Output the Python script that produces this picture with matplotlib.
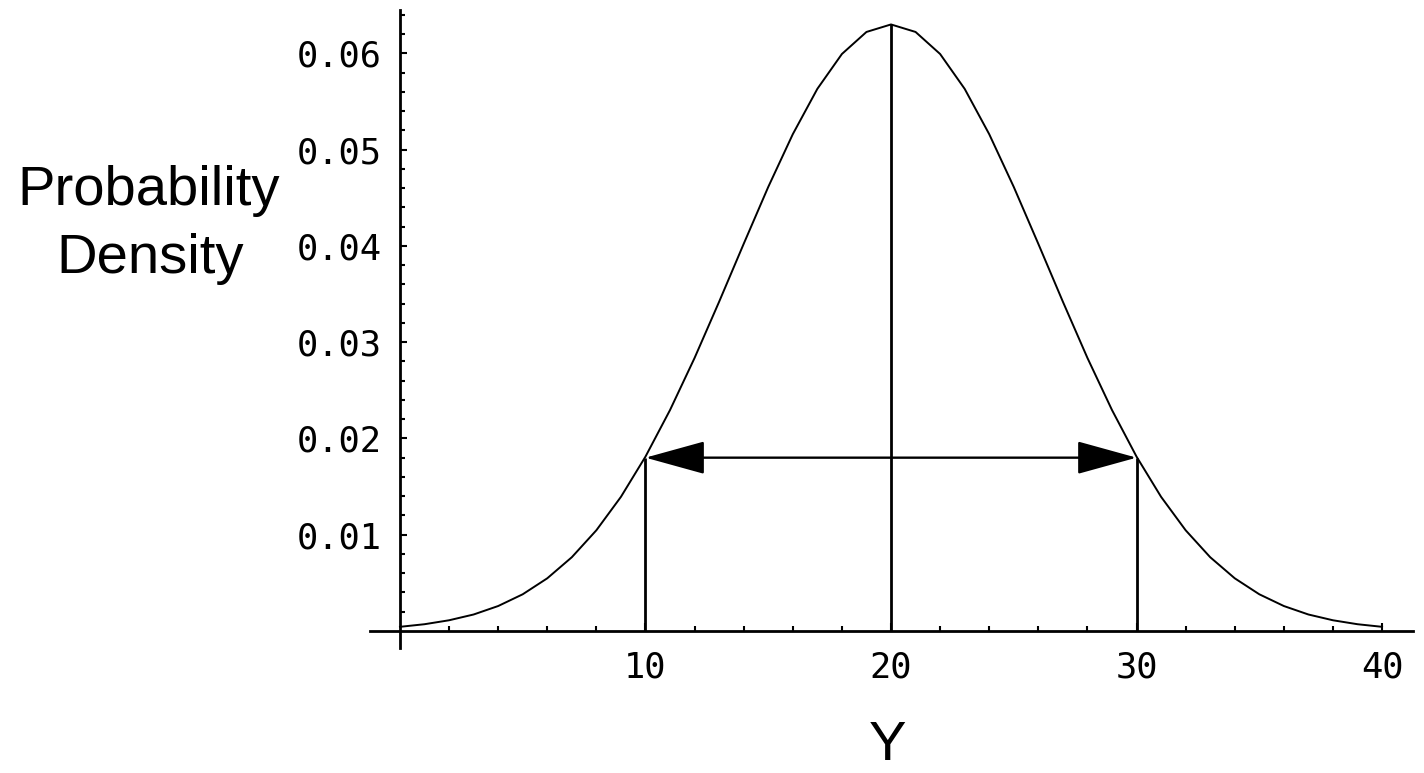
import matplotlib
matplotlib.use("Agg")
import matplotlib.pyplot as plt
from matplotlib.patches import FancyArrowPatch
from matplotlib.ticker import FixedLocator, FixedFormatter

# ---- data ----
y_values = list(range(0, 41))
density = [0.00043, 0.00070, 0.00111, 0.00171, 0.00259, 0.00381, 0.00547,
           0.00766, 0.01046, 0.01393, 0.01811, 0.02295, 0.02836, 0.03420,
           0.04021, 0.04612, 0.05160, 0.05631, 0.05993, 0.06222, 0.06300,
           0.06222, 0.05993, 0.05631, 0.05160, 0.04612, 0.04021, 0.03420,
           0.02836, 0.02295, 0.01811, 0.01393, 0.01046, 0.00766, 0.00547,
           0.00381, 0.00259, 0.00171, 0.00111, 0.00070, 0.00043]

mean_y = 20
peak_density = 0.063
lower_y = 10
upper_y = 30
band_density = 0.018

x_major = [10, 20, 30, 40]
x_major_labels = ["10", "20", "30", "40"]
x_minor = [2, 4, 6, 8, 12, 14, 16, 18, 22, 24, 26, 28, 32, 34, 36, 38]
y_major = [0.01, 0.02, 0.03, 0.04, 0.05, 0.06]
y_major_labels = ["0.01", "0.02", "0.03", "0.04", "0.05", "0.06"]
y_minor = [0.002, 0.004, 0.006, 0.008, 0.012, 0.014, 0.016, 0.018,
           0.022, 0.024, 0.026, 0.028, 0.032, 0.034, 0.036, 0.038,
           0.042, 0.044, 0.046, 0.048, 0.052, 0.054, 0.056, 0.058,
           0.062, 0.064]

# ---- figure ----
W, H = 1424, 773
fig = plt.figure(figsize=(W / 100, H / 100), dpi=100)
ax = fig.add_axes([370 / W, 1 - 648 / H, (1413 - 370) / W, 638 / H])
ax.set_xlim(-1.22, 41.26)
ax.set_ylim(-0.00177, 0.0645)

for s in ["top", "right"]:
    ax.spines[s].set_visible(False)
ax.spines["left"].set_position(("data", 0))
ax.spines["bottom"].set_position(("data", 0))
for s in ["left", "bottom"]:
    ax.spines[s].set_linewidth(2.0)
    ax.spines[s].set_color("black")

# curve
ax.plot(y_values, density, color="black", lw=1.4, solid_joinstyle="round")

# vertical lines
ax.vlines([lower_y, upper_y], 0, band_density, color="black", lw=2.0)
ax.vlines([mean_y], 0, peak_density, color="black", lw=2.0)

# double arrow
arrow = FancyArrowPatch((lower_y, band_density), (upper_y, band_density),
                        arrowstyle="<|-|>,head_length=38,head_width=10.5",
                        mutation_scale=1, shrinkA=0, shrinkB=0,
                        color="black", lw=1.7)
ax.add_patch(arrow)

# ticks
mono = {"family": "DejaVu Sans Mono", "size": 25.5}
ax.xaxis.set_major_locator(FixedLocator(x_major))
ax.xaxis.set_major_formatter(FixedFormatter(x_major_labels))
ax.xaxis.set_minor_locator(FixedLocator(x_minor))
ax.yaxis.set_major_locator(FixedLocator(y_major))
ax.yaxis.set_major_formatter(FixedFormatter(y_major_labels))
ax.yaxis.set_minor_locator(FixedLocator(y_minor))
ax.tick_params(axis="x", which="major", direction="in", length=5.8, width=1.5, pad=14)
ax.tick_params(axis="x", which="minor", direction="in", length=3.6, width=1.5)
ax.tick_params(axis="y", which="major", direction="in", length=5, width=1.5, pad=13)
ax.tick_params(axis="y", which="minor", direction="in", length=3.6, width=1.5)
for lab in ax.get_xticklabels() + ax.get_yticklabels():
    lab.set_fontfamily(mono["family"])
    lab.set_fontsize(mono["size"])

# labels
sans = "Liberation Sans"
fig.text(149 / W, 1 - 205 / H, "Probability", ha="center", va="baseline",
         fontsize=40.5, family=sans)
fig.text(150 / W, 1 - 273 / H, "Density", ha="center", va="baseline",
         fontsize=40.5, family=sans)
fig.text(888 / W, 1 - 760 / H, "Y", ha="center", va="baseline",
         fontsize=40.5, family=sans)

fig.savefig("out.png", dpi=100, facecolor="white")
